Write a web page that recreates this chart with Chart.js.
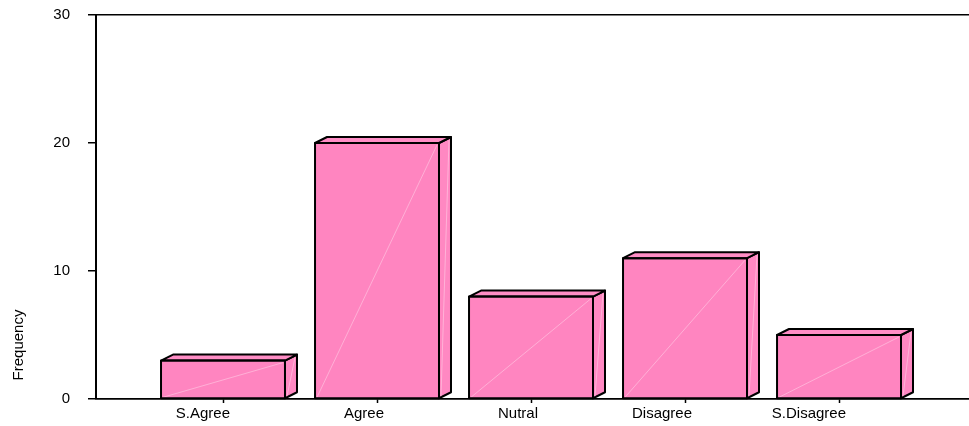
<!DOCTYPE html>
<html>
<head>
<meta charset="utf-8">
<script src="https://cdn.jsdelivr.net/npm/chart.js@4/dist/chart.umd.min.js"></script>
<style>
  html, body { margin: 0; padding: 0; background: #fff; }
  #wrap { width: 969px; height: 426px; position: relative; }
</style>
</head>
<body>
<div id="wrap"><canvas id="c"></canvas></div>
<script>
// Response categories and their frequencies
const categories = ['S.Agree', 'Agree', 'Nutral', 'Disagree', 'S.Disagree'];
const frequencies = [3, 20, 8, 11, 5];
const yTicks = [0, 10, 20, 30];
const yTitle = 'Frequency';

const FONT = '"Liberation Sans", Arial, sans-serif';
const PINK = '#FF85C0';
const PINK_TOP = '#FF8DC5';
const PINK_SIDE = '#FF88C2';
const DEPTH_X = 12, DEPTH_Y = 6;

// Extrudes each bar into a box: top face, right face and a faint sheen diagonal
const boxBars = {
  id: 'boxBars',
  afterDatasetsDraw(chart) {
    const ctx = chart.ctx;
    const meta = chart.getDatasetMeta(0);
    meta.data.forEach(bar => {
      const { x, y, base, width } = bar.getProps(['x', 'y', 'base', 'width'], true);
      const l = x - width / 2, r = x + width / 2;
      ctx.save();
      ctx.lineJoin = 'round';
      // sheen on front face
      ctx.beginPath();
      ctx.moveTo(l + 2, base - 1);
      ctx.lineTo(r - 2, y + 2);
      ctx.strokeStyle = 'rgba(255,255,255,0.35)';
      ctx.lineWidth = 1;
      ctx.stroke();
      ctx.lineWidth = 2;
      ctx.strokeStyle = '#000';
      // right face
      ctx.beginPath();
      ctx.moveTo(r, y);
      ctx.lineTo(r + DEPTH_X, y - DEPTH_Y);
      ctx.lineTo(r + DEPTH_X, base - DEPTH_Y);
      ctx.lineTo(r, base);
      ctx.closePath();
      ctx.fillStyle = PINK_SIDE;
      ctx.fill();
      ctx.stroke();
      // sheen on right face
      ctx.beginPath();
      ctx.moveTo(r + 2, base - 2);
      ctx.lineTo(r + DEPTH_X - 2, y - DEPTH_Y + 3);
      ctx.strokeStyle = 'rgba(255,255,255,0.35)';
      ctx.lineWidth = 1;
      ctx.stroke();
      ctx.lineWidth = 2;
      ctx.strokeStyle = '#000';
      // top face
      ctx.beginPath();
      ctx.moveTo(l, y);
      ctx.lineTo(l + DEPTH_X, y - DEPTH_Y);
      ctx.lineTo(r + DEPTH_X, y - DEPTH_Y);
      ctx.lineTo(r, y);
      ctx.closePath();
      ctx.fillStyle = PINK_TOP;
      ctx.fill();
      ctx.stroke();
      // front outline
      ctx.strokeRect(l, y, width, base - y);
      ctx.restore();
    });
  }
};

// Rotated axis title placed toward the lower part of the axis
const yAxisTitle = {
  id: 'yAxisTitle',
  afterDraw(chart) {
    const ctx = chart.ctx;
    ctx.save();
    ctx.translate(19, 345);
    ctx.rotate(-Math.PI / 2);
    ctx.font = '15px ' + FONT;
    ctx.fillStyle = '#000';
    ctx.textAlign = 'center';
    ctx.textBaseline = 'middle';
    ctx.fillText(yTitle, 0, 0);
    ctx.restore();
  }
};

new Chart(document.getElementById('c'), {
  type: 'bar',
  data: {
    datasets: [{
      data: frequencies.map((v, i) => ({ x: i, y: v })),
      backgroundColor: PINK,
      borderColor: '#000',
      borderWidth: 0,
      barPercentage: 0.805,
      categoryPercentage: 1
    }]
  },
  plugins: [boxBars, yAxisTitle],
  options: {
    responsive: true,
    maintainAspectRatio: false,
    animation: false,
    layout: { padding: { top: 15, right: 0, left: 0, bottom: 0 } },
    plugins: { legend: { display: false }, tooltip: { enabled: false } },
    scales: {
      x: {
        type: 'linear',
        min: -0.8247,
        max: 4.844,
        offset: false,
        afterBuildTicks(scale) { scale.ticks = categories.map((_, i) => ({ value: i })); },
        afterFit(scale) { scale.height = 27; scale.paddingLeft = 0; scale.paddingRight = 0; },
        ticks: {
          callback: v => categories[v],
          autoSkip: false,
          maxRotation: 0,
          align: 'end',
          labelOffset: 7,
          padding: 2,
          color: '#000',
          font: { family: FONT, size: 15 }
        },
        grid: { offset: false, drawOnChartArea: false, tickLength: 4, tickColor: '#000', tickWidth: 1.5 },
        border: { display: true, color: '#000', width: 1.5 }
      },
      y: {
        min: 0,
        max: 30,
        afterBuildTicks(scale) { scale.ticks = yTicks.map(v => ({ value: v })); },
        afterFit(scale) { scale.width = 96; scale.paddingTop = 0; scale.paddingBottom = 0; },
        ticks: {
          padding: 18,
          color: '#000',
          font: { family: FONT, size: 15 }
        },
        grid: {
          color: c => (c.tick && (c.tick.value === 30 || c.tick.value === 0)) ? '#000' : 'rgba(0,0,0,0)',
          lineWidth: 1.5,
          tickLength: 8,
          tickColor: '#000',
          tickWidth: 1.5
        },
        border: { display: true, color: '#000', width: 2 }
      }
    }
  }
});
</script>
</body>
</html>
